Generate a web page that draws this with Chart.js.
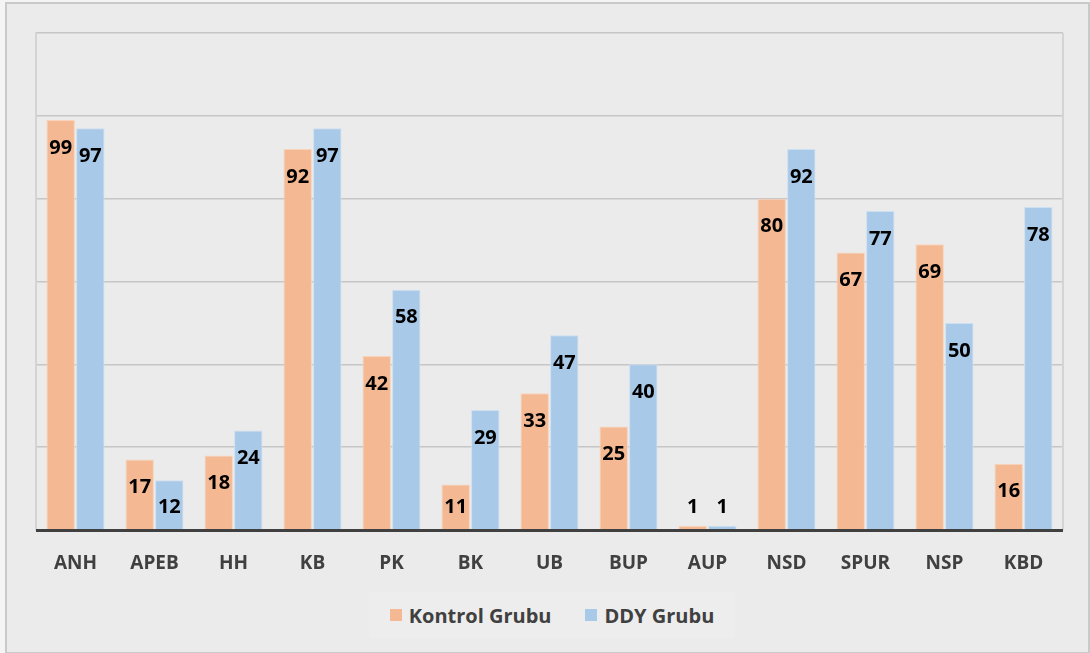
<!DOCTYPE html>
<html>
<head>
<meta charset="utf-8">
<script src="https://cdn.jsdelivr.net/npm/chart.js@4"></script>
<style>
  body { margin: 0; background: #f4f4f4; }
  #frame {
    position: absolute; left: 5px; top: 2px; width: 1081px; height: 648px;
    border: 2px solid #c9c9c9; background: #ebebeb;
  }
  #wrap { position: absolute; left: 0; top: 0; width: 1090px; height: 653px; }
  #legend {
    position: absolute; left: 369px; top: 592px; width: 366px; height: 46px;
    background: #ededed; display: flex; align-items: center; justify-content: center;
    font: bold 20px "Open Sans", sans-serif; color: #404040;
  }
  #legend span.sw { display: inline-block; width: 12px; height: 12px; margin-right: 7px; }
  #legend .item { display: flex; align-items: center; margin: 0 17px; }
</style>
</head>
<body>
<div id="frame"></div>
<div id="wrap"><canvas id="chart" width="1090" height="653"></canvas></div>
<div id="legend">
  <div class="item"><span class="sw" style="background:#f4b992"></span>Kontrol Grubu</div>
  <div class="item"><span class="sw" style="background:#a9c9e8"></span>DDY Grubu</div>
</div>
<script>
const categories = ["ANH", "APEB", "HH", "KB", "PK", "BK", "UB", "BUP", "AUP", "NSD", "SPUR", "NSP", "KBD"];
const kontrolValues = [99, 17, 18, 92, 42, 11, 33, 25, 1, 80, 67, 69, 16];
const ddyValues = [97, 12, 24, 97, 58, 29, 47, 40, 1, 92, 77, 50, 78];

// kutu çerçevesi + taban çizgisi + değer etiketleri
const framePlugin = {
  id: "framePlugin",
  beforeDatasetsDraw(chart) {
    const { ctx, chartArea: a } = chart;
    ctx.save();
    ctx.strokeStyle = "#d4d4d4";
    ctx.lineWidth = 2;
    ctx.beginPath();
    ctx.moveTo(a.right, a.top);
    ctx.lineTo(a.right, a.bottom);
    ctx.stroke();
    ctx.restore();
  },
  afterDatasetsDraw(chart) {
    const { ctx, chartArea: a } = chart;
    ctx.save();
    ctx.strokeStyle = "#404040";
    ctx.lineWidth = 3;
    ctx.beginPath();
    ctx.moveTo(a.left, a.bottom + 0.5);
    ctx.lineTo(a.right, a.bottom + 0.5);
    ctx.stroke();

    ctx.font = "bold 20px 'Open Sans', sans-serif";
    ctx.fillStyle = "#000";
    ctx.textAlign = "center";
    ctx.textBaseline = "middle";
    chart.data.datasets.forEach((ds, i) => {
      chart.getDatasetMeta(i).data.forEach((bar, j) => {
        const y = Math.min(bar.y + 28, a.bottom - 23);
        ctx.fillText(ds.data[j], bar.x, y);
      });
    });
    ctx.restore();
  },
};

new Chart(document.getElementById("chart"), {
  type: "bar",
  data: {
    labels: categories,
    datasets: [
      {
        label: "Kontrol Grubu",
        data: kontrolValues,
        backgroundColor: "#f4b992",
        borderColor: "#f9d4ba",
        borderWidth: 1,
        categoryPercentage: 0.75,
        barPercentage: 0.96,
      },
      {
        label: "DDY Grubu",
        data: ddyValues,
        backgroundColor: "#a9c9e8",
        borderColor: "#cde0f2",
        borderWidth: 1,
        categoryPercentage: 0.75,
        barPercentage: 0.96,
      },
    ],
  },
  options: {
    responsive: false,
    animation: false,
    layout: { padding: { left: 36, top: 33, right: 27, bottom: 83 } },
    plugins: { legend: { display: false }, tooltip: { enabled: false } },
    scales: {
      x: {
        grid: { display: false, drawTicks: false },
        border: { display: false },
        ticks: {
          padding: 22,
          color: "#404040",
          font: { family: "'Open Sans', sans-serif", size: 19, weight: "bold" },
        },
        afterFit(scale) { scale.height = 40; },
      },
      y: {
        min: 0,
        max: 120,
        ticks: { display: false, stepSize: 20 },
        grid: { color: "#c6c6c6", lineWidth: 1.5, drawTicks: false },
        border: { display: true, color: "#d4d4d4", width: 2 },
        afterFit(scale) { scale.width = 0; },
      },
    },
  },
  plugins: [framePlugin],
});
</script>
</body>
</html>
